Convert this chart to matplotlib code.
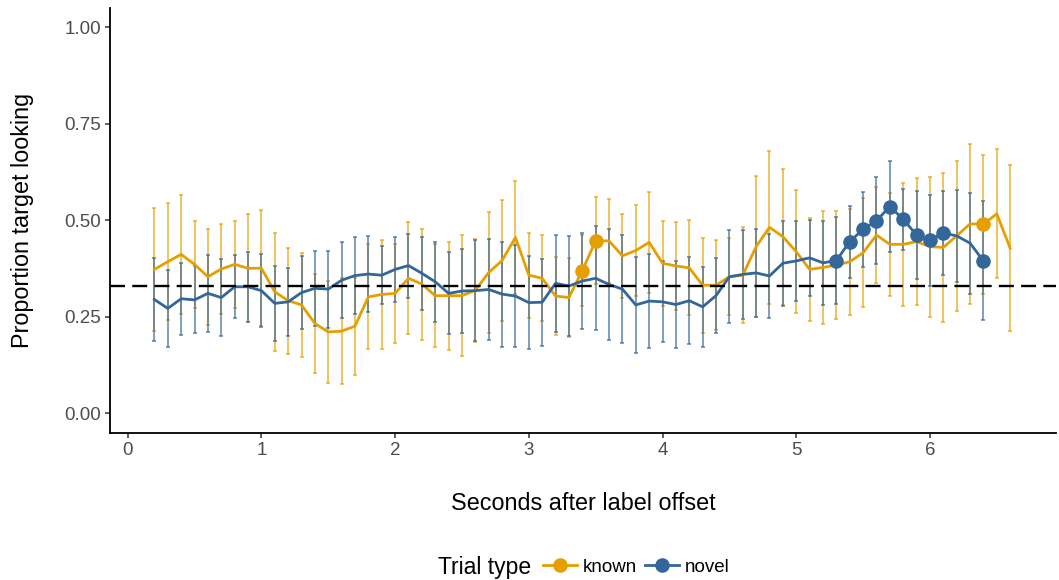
import numpy as np
import matplotlib
matplotlib.use("Agg")
import matplotlib.pyplot as plt
from matplotlib.lines import Line2D

plt.rcParams['font.family'] = ['Liberation Sans', 'DejaVu Sans']
plt.rcParams['lines.scale_dashes'] = False

# time bins (seconds after label offset)
known_time = [round(0.2 + 0.1 * i, 1) for i in range(65)]
novel_time = [round(0.2 + 0.1 * i, 1) for i in range(63)]

known_mean = [0.373, 0.393, 0.412, 0.386, 0.354, 0.374, 0.386, 0.376, 0.376, 0.315,
              0.292, 0.281, 0.233, 0.211, 0.213, 0.226, 0.302, 0.308, 0.311, 0.350,
              0.335, 0.305, 0.305, 0.305, 0.319, 0.365, 0.396, 0.456, 0.358, 0.350,
              0.304, 0.300, 0.370, 0.447, 0.447, 0.408, 0.422, 0.443, 0.389, 0.382,
              0.377, 0.332, 0.332, 0.354, 0.358, 0.432, 0.482, 0.458, 0.419, 0.373,
              0.378, 0.384, 0.393, 0.416, 0.462, 0.438, 0.438, 0.445, 0.432, 0.430,
              0.460, 0.491, 0.490, 0.517, 0.428]
known_se = [0.160, 0.152, 0.154, 0.112, 0.125, 0.116, 0.113, 0.140, 0.150, 0.153,
            0.137, 0.134, 0.128, 0.131, 0.137, 0.126, 0.136, 0.141, 0.128, 0.145,
            0.144, 0.134, 0.140, 0.157, 0.134, 0.158, 0.157, 0.147, 0.110, 0.111,
            0.100, 0.102, 0.091, 0.113, 0.108, 0.109, 0.118, 0.131, 0.110, 0.114,
            0.123, 0.123, 0.117, 0.100, 0.125, 0.182, 0.198, 0.176, 0.159, 0.134,
            0.147, 0.140, 0.137, 0.141, 0.125, 0.133, 0.160, 0.165, 0.181, 0.193,
            0.195, 0.208, 0.180, 0.167, 0.215]

novel_mean = [0.295, 0.272, 0.297, 0.294, 0.311, 0.300, 0.328, 0.328, 0.318, 0.285,
              0.289, 0.313, 0.324, 0.322, 0.345, 0.357, 0.361, 0.358, 0.373, 0.383,
              0.363, 0.341, 0.311, 0.317, 0.318, 0.321, 0.309, 0.304, 0.287, 0.288,
              0.337, 0.330, 0.343, 0.350, 0.334, 0.322, 0.281, 0.291, 0.289, 0.282,
              0.292, 0.276, 0.305, 0.354, 0.360, 0.364, 0.356, 0.389, 0.395, 0.403,
              0.390, 0.396, 0.445, 0.477, 0.499, 0.536, 0.503, 0.462, 0.449, 0.467,
              0.460, 0.441, 0.395]
novel_se = [0.108, 0.099, 0.093, 0.087, 0.100, 0.099, 0.082, 0.091, 0.095, 0.097,
            0.088, 0.094, 0.097, 0.100, 0.099, 0.100, 0.098, 0.075, 0.084, 0.083,
            0.094, 0.103, 0.106, 0.110, 0.130, 0.132, 0.136, 0.133, 0.121, 0.113,
            0.125, 0.130, 0.125, 0.135, 0.144, 0.139, 0.125, 0.122, 0.105, 0.113,
            0.112, 0.103, 0.098, 0.120, 0.115, 0.113, 0.110, 0.110, 0.104, 0.099,
            0.108, 0.113, 0.093, 0.097, 0.113, 0.119, 0.079, 0.115, 0.118, 0.109,
            0.120, 0.131, 0.154]

# bins where the trial type differs from chance
known_sig = [3.4, 3.5, 6.4]
novel_sig = [5.3, 5.4, 5.5, 5.6, 5.7, 5.8, 5.9, 6.0, 6.1, 6.4]

chance = 0.33

c_known = '#E69F00'
c_novel = '#336699'

fig = plt.figure(figsize=(10.59, 5.8), dpi=100)
ax = fig.add_axes([0.1039, 0.254, 0.8933, 0.732])

for t, m, s, c in [(known_time, known_mean, known_se, c_known),
                   (novel_time, novel_mean, novel_se, c_novel)]:
    ax.errorbar(t, m, yerr=s, fmt='none', ecolor=c, elinewidth=1.1,
                capsize=1.2, capthick=1.1, alpha=0.8, zorder=2)

for t, m, c in [(known_time, known_mean, c_known), (novel_time, novel_mean, c_novel)]:
    ax.plot(t, m, color=c, lw=2, zorder=3)

for t, m, sig, c in [(known_time, known_mean, known_sig, c_known),
                     (novel_time, novel_mean, novel_sig, c_novel)]:
    xs = [x for x in t if x in sig]
    ys = [m[t.index(x)] for x in xs]
    ax.plot(xs, ys, 'o', color=c, ms=10.5, mec='none', zorder=4)

ax.axhline(chance, color='black', lw=1.7, dashes=(10.8, 5.2), zorder=5)

ax.set_xlim(-0.132, 6.943)
ax.set_ylim(-0.05, 1.05)
ax.set_xticks(range(7))
ax.set_yticks([0, 0.25, 0.5, 0.75, 1.0])
ax.set_yticklabels(['0.00', '0.25', '0.50', '0.75', '1.00'])

for sp in ['top', 'right']:
    ax.spines[sp].set_visible(False)
for sp in ['left', 'bottom']:
    ax.spines[sp].set_linewidth(1.3)
ax.tick_params(length=3.5, width=1.1, color='#333333', labelsize=13.5,
               labelcolor='#4D4D4D', pad=3)

ax.set_xlabel('Seconds after label offset', fontsize=16.8, labelpad=24)
ax.set_ylabel('Proportion target looking', fontsize=16.8, labelpad=22)

fig.text(438 / 1059, 0.022, 'Trial type', fontsize=16.5, va='center', ha='left')
handles = [Line2D([], [], color=c_known, lw=2, marker='o', ms=10.5, mec='none'),
           Line2D([], [], color=c_novel, lw=2, marker='o', ms=10.5, mec='none')]
fig.legend(handles, ['known', 'novel'], loc='center left',
           bbox_to_anchor=(543 / 1059, 0.022), ncol=2, frameon=False,
           fontsize=13.5, handlelength=1.8, handletextpad=0.3,
           columnspacing=0.45, borderpad=0, borderaxespad=0)

fig.savefig('out.png', dpi=100)
